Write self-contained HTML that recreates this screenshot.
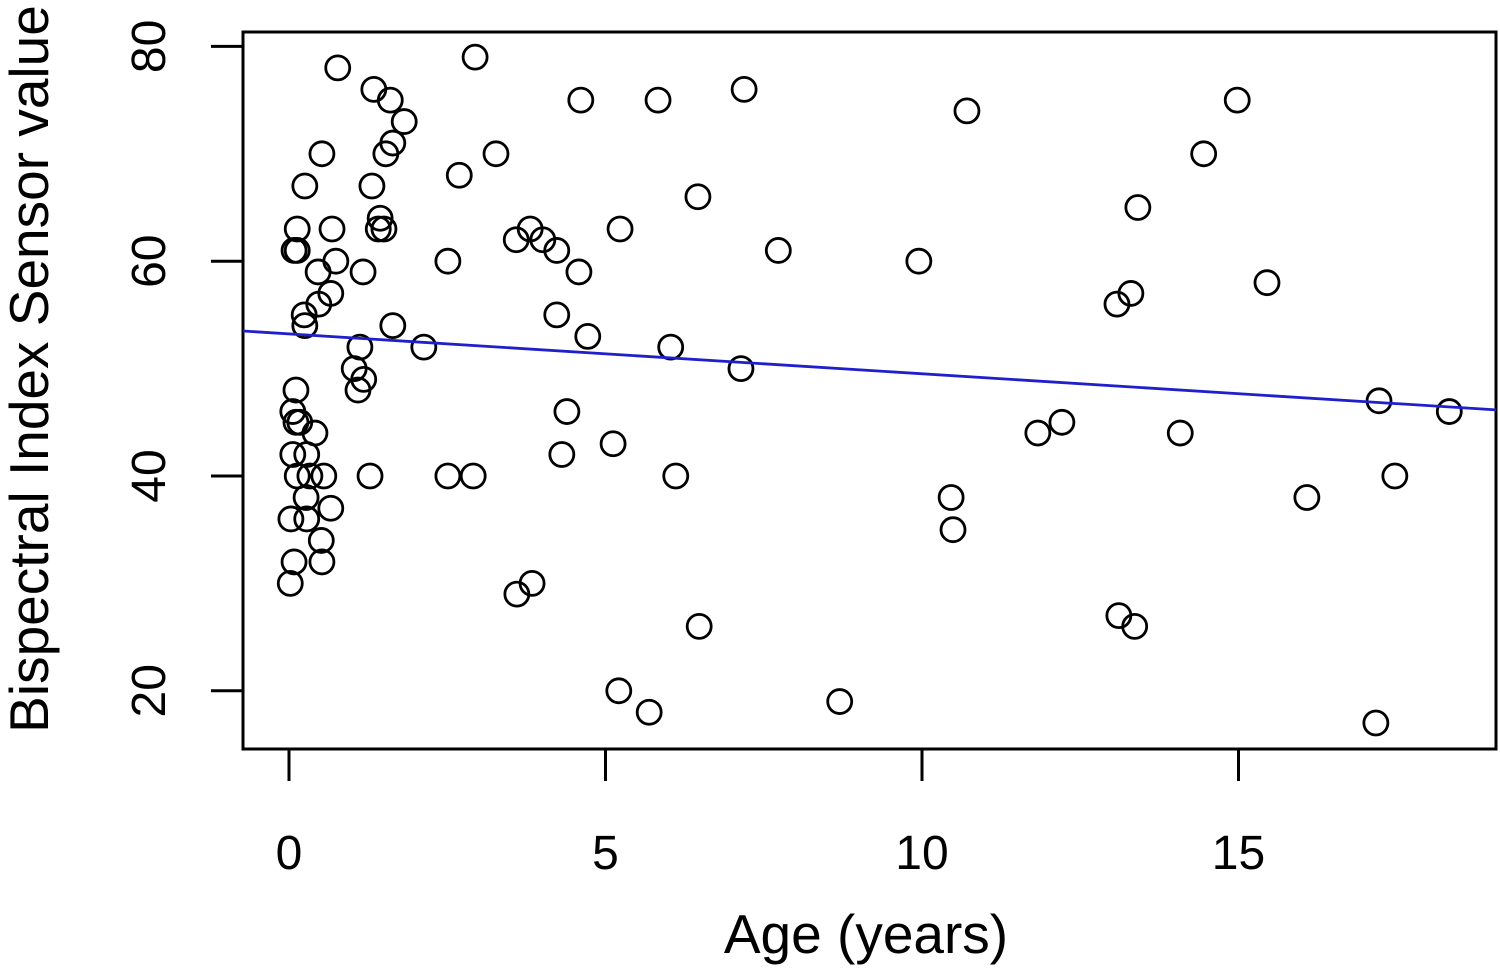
<!DOCTYPE html>
<html><head><meta charset="utf-8"><style>
body{margin:0;background:#fff}
svg text{font-family:"Liberation Sans",sans-serif;fill:#000}
</style></head><body>
<svg id="chart" width="1500" height="971" xmlns="http://www.w3.org/2000/svg">
<rect x="243" y="32" width="1253" height="717" fill="none" stroke="#000" stroke-width="3"/>
<g id="xaxis"></g>
<g id="yaxis"></g>
<g id="pts"></g>
<text x="866" y="953" font-size="55" text-anchor="middle">Age (years)</text>
<text transform="translate(48,369) rotate(-90)" font-size="55" text-anchor="middle">Bispectral Index Sensor value</text>
</svg>
<script>
const ages=[0.77,1.34,1.60,1.82,1.64,1.53,0.52,0.25,1.31,0.13,0.68,1.44,1.41,1.50,0.08,0.13,0.46,0.74,1.17,0.66,0.47,0.24,0.25,1.64,2.13,1.12,1.03,1.18,1.09,0.11,0.06,0.11,0.17,0.41,0.06,0.28,0.13,0.33,0.55,1.28,0.27,0.66,0.03,0.28,0.51,0.08,0.52,0.02,2.94,3.27,2.69,2.51,2.51,2.91,3.59,3.81,4.01,4.23,4.58,4.23,4.72,4.39,4.31,3.60,3.84,4.61,5.83,5.23,5.12,5.21,5.69,6.46,6.03,6.11,6.48,7.19,7.73,7.14,8.70,10.71,9.95,10.46,10.49,11.83,12.21,13.08,13.30,13.41,13.11,13.36,14.45,14.98,15.45,14.08,16.08,17.22,17.47,18.33,17.17];
const bis=[78,76,75,73,71,70,70,67,67,63,63,64,63,63,61,61,59,60,59,57,56,55,54,54,52,52,50,49,48,48,46,45,45,44,42,42,40,40,40,40,38,37,36,36,34,32,32,30,79,70,68,60,40,40,62,63,62,61,59,55,53,46,42,29,30,75,75,63,43,20,18,66,52,40,26,76,61,50,19,74,60,38,35,44,45,56,57,65,27,26,70,75,58,44,38,47,40,46,17];
const xTicks=[0,5,10,15];
const yTicks=[20,40,60,80];
const fitIntercept=53.23, fitSlope=-0.371;
const X=v=>289+v*63.3, Y=v=>476-(v-40)*10.74;
const NS="http://www.w3.org/2000/svg";
function mk(t,a,p){const e=document.createElementNS(NS,t);for(const k in a)e.setAttribute(k,a[k]);p.appendChild(e);return e;}
const xa=document.getElementById('xaxis'),ya=document.getElementById('yaxis'),pts=document.getElementById('pts');
mk('line',{x1:X(0),x2:X(15),y1:749,y2:749,stroke:'#000','stroke-width':3},xa);
xTicks.forEach(t=>{const l=mk('line',{x1:X(t),x2:X(t),y1:749,y2:781,stroke:'#000','stroke-width':3},xa);


const tx=mk('text',{x:X(t),y:869,'font-size':48,'text-anchor':'middle'},xa);tx.textContent=t;

});
mk('line',{x1:243,x2:243,y1:Y(20),y2:Y(80),stroke:'#000','stroke-width':3},ya);
yTicks.forEach(t=>{const l=mk('line',{x1:211,x2:243,y1:Y(t),y2:Y(t),stroke:'#000','stroke-width':3},ya);


const tx=mk('text',{transform:`translate(165,${Y(t)}) rotate(-90)`,'font-size':48,'text-anchor':'middle'},ya);tx.textContent=t;

});
ages.forEach((a,i)=>{const c=mk('circle',{cx:X(a),cy:Y(bis[i]),r:12,fill:'none',stroke:'#000','stroke-width':2.8},pts);

});
const x0=(243-289)/63.3,x1=(1496-289)/63.3;
const fl=mk('line',{x1:243,x2:1496,y1:Y(fitIntercept+fitSlope*x0),y2:Y(fitIntercept+fitSlope*x1),stroke:'#1f1fcc','stroke-width':2.8},document.getElementById('chart'));


</script>
</body></html>
